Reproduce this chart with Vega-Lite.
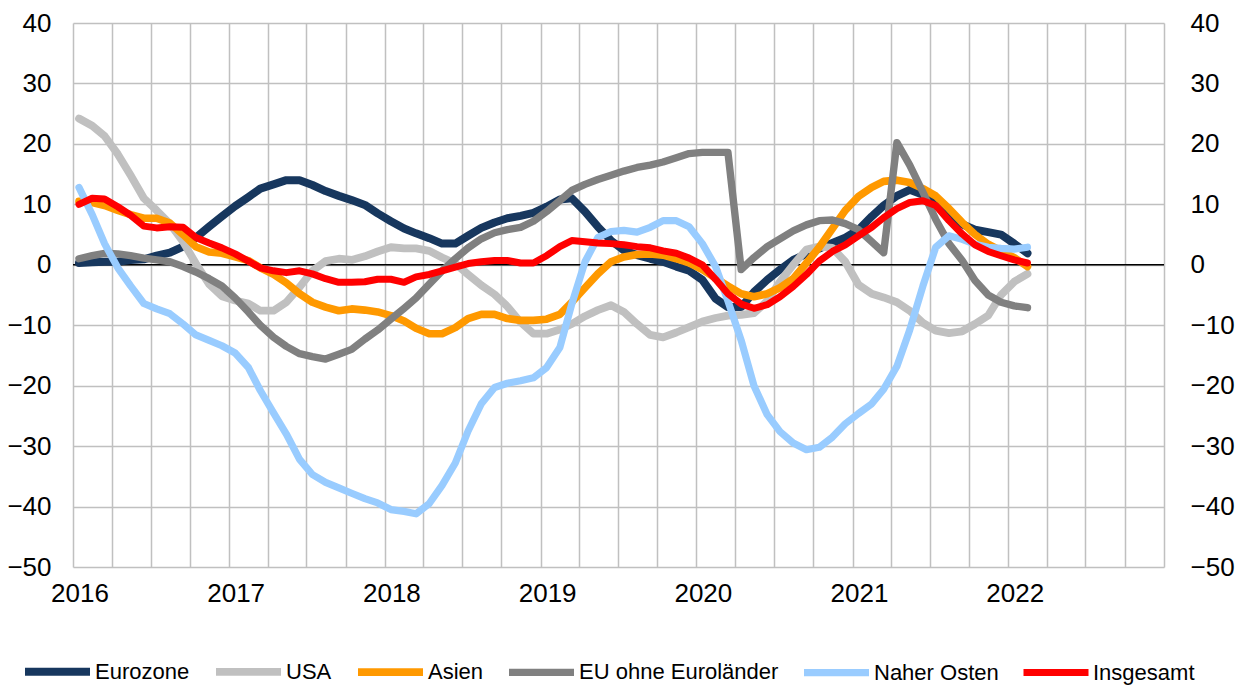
{
  "$schema": "https://vega.github.io/schema/vega-lite/v6.json",
  "width": 1091,
  "height": 544,
  "autosize": {"type": "none"},
  "padding": {"left": 73, "top": 23, "right": 77, "bottom": 119},
  "background": "white",
  "config": {"view": {"stroke": null}, "font": "Liberation Sans"},
  "data": {"values": [
    {"Datum": "2016-01-15", "Eurozone": 0.3, "USA": 24.2, "Asien": 10.5, "EU ohne Euroländer": 1.0, "Naher Osten": 12.8, "Insgesamt": 10.0},
    {"Datum": "2016-02-15", "Eurozone": 0.4, "USA": 23.0, "Asien": 10.3, "EU ohne Euroländer": 1.5, "Naher Osten": 8.3, "Insgesamt": 11.0},
    {"Datum": "2016-03-15", "Eurozone": 0.5, "USA": 21.3, "Asien": 9.8, "EU ohne Euroländer": 1.9, "Naher Osten": 3.5, "Insgesamt": 10.9},
    {"Datum": "2016-04-15", "Eurozone": 0.5, "USA": 18.3, "Asien": 9.0, "EU ohne Euroländer": 1.8, "Naher Osten": -0.5, "Insgesamt": 9.6},
    {"Datum": "2016-05-15", "Eurozone": 0.8, "USA": 14.8, "Asien": 8.3, "EU ohne Euroländer": 1.5, "Naher Osten": -3.5, "Insgesamt": 8.2},
    {"Datum": "2016-06-15", "Eurozone": 0.9, "USA": 11.0, "Asien": 7.7, "EU ohne Euroländer": 1.1, "Naher Osten": -6.4, "Insgesamt": 6.4},
    {"Datum": "2016-07-15", "Eurozone": 1.5, "USA": 9.0, "Asien": 7.7, "EU ohne Euroländer": 0.8, "Naher Osten": -7.3, "Insgesamt": 6.1},
    {"Datum": "2016-08-15", "Eurozone": 2.0, "USA": 6.8, "Asien": 6.9, "EU ohne Euroländer": 0.5, "Naher Osten": -8.1, "Insgesamt": 6.3},
    {"Datum": "2016-09-15", "Eurozone": 3.0, "USA": 3.8, "Asien": 5.0, "EU ohne Euroländer": -0.3, "Naher Osten": -9.8, "Insgesamt": 6.2},
    {"Datum": "2016-10-15", "Eurozone": 4.5, "USA": 0.2, "Asien": 3.0, "EU ohne Euroländer": -1.2, "Naher Osten": -11.6, "Insgesamt": 4.5},
    {"Datum": "2016-11-15", "Eurozone": 6.3, "USA": -3.2, "Asien": 2.1, "EU ohne Euroländer": -2.3, "Naher Osten": -12.5, "Insgesamt": 3.6},
    {"Datum": "2016-12-15", "Eurozone": 8.0, "USA": -5.2, "Asien": 1.9, "EU ohne Euroländer": -3.5, "Naher Osten": -13.4, "Insgesamt": 2.8},
    {"Datum": "2017-01-15", "Eurozone": 9.7, "USA": -5.9, "Asien": 1.3, "EU ohne Euroländer": -5.5, "Naher Osten": -14.6, "Insgesamt": 1.8},
    {"Datum": "2017-02-15", "Eurozone": 11.2, "USA": -6.4, "Asien": 0.7, "EU ohne Euroländer": -7.8, "Naher Osten": -17.0, "Insgesamt": 0.6},
    {"Datum": "2017-03-15", "Eurozone": 12.6, "USA": -7.6, "Asien": -0.5, "EU ohne Euroländer": -10.0, "Naher Osten": -20.8, "Insgesamt": -0.5},
    {"Datum": "2017-04-15", "Eurozone": 13.3, "USA": -7.6, "Asien": -1.6, "EU ohne Euroländer": -12.0, "Naher Osten": -24.5, "Insgesamt": -1.0},
    {"Datum": "2017-05-15", "Eurozone": 14.0, "USA": -6.2, "Asien": -3.0, "EU ohne Euroländer": -13.5, "Naher Osten": -28.0, "Insgesamt": -1.3},
    {"Datum": "2017-06-15", "Eurozone": 14.0, "USA": -3.7, "Asien": -4.8, "EU ohne Euroländer": -14.7, "Naher Osten": -32.2, "Insgesamt": -1.0},
    {"Datum": "2017-07-15", "Eurozone": 13.2, "USA": -1.0, "Asien": -6.2, "EU ohne Euroländer": -15.2, "Naher Osten": -34.7, "Insgesamt": -1.5},
    {"Datum": "2017-08-15", "Eurozone": 12.2, "USA": 0.6, "Asien": -7.0, "EU ohne Euroländer": -15.6, "Naher Osten": -36.0, "Insgesamt": -2.3},
    {"Datum": "2017-09-15", "Eurozone": 11.4, "USA": 1.0, "Asien": -7.6, "EU ohne Euroländer": -14.8, "Naher Osten": -36.9, "Insgesamt": -2.9},
    {"Datum": "2017-10-15", "Eurozone": 10.7, "USA": 0.8, "Asien": -7.3, "EU ohne Euroländer": -14.0, "Naher Osten": -37.8, "Insgesamt": -2.9},
    {"Datum": "2017-11-15", "Eurozone": 9.9, "USA": 1.4, "Asien": -7.5, "EU ohne Euroländer": -12.3, "Naher Osten": -38.7, "Insgesamt": -2.8},
    {"Datum": "2017-12-15", "Eurozone": 8.5, "USA": 2.2, "Asien": -7.8, "EU ohne Euroländer": -10.8, "Naher Osten": -39.4, "Insgesamt": -2.4},
    {"Datum": "2018-01-15", "Eurozone": 7.2, "USA": 2.9, "Asien": -8.4, "EU ohne Euroländer": -9.0, "Naher Osten": -40.5, "Insgesamt": -2.4},
    {"Datum": "2018-02-15", "Eurozone": 6.0, "USA": 2.7, "Asien": -9.3, "EU ohne Euroländer": -7.2, "Naher Osten": -40.8, "Insgesamt": -2.9},
    {"Datum": "2018-03-15", "Eurozone": 5.2, "USA": 2.7, "Asien": -10.5, "EU ohne Euroländer": -5.5, "Naher Osten": -41.2, "Insgesamt": -2.0},
    {"Datum": "2018-04-15", "Eurozone": 4.4, "USA": 2.3, "Asien": -11.4, "EU ohne Euroländer": -3.2, "Naher Osten": -39.5, "Insgesamt": -1.6},
    {"Datum": "2018-05-15", "Eurozone": 3.5, "USA": 1.2, "Asien": -11.4, "EU ohne Euroländer": -1.0, "Naher Osten": -36.5, "Insgesamt": -1.0},
    {"Datum": "2018-06-15", "Eurozone": 3.5, "USA": 0.2, "Asien": -10.4, "EU ohne Euroländer": 1.0, "Naher Osten": -32.8, "Insgesamt": -0.4},
    {"Datum": "2018-07-15", "Eurozone": 4.8, "USA": -1.6, "Asien": -8.9, "EU ohne Euroländer": 2.8, "Naher Osten": -27.5, "Insgesamt": 0.2},
    {"Datum": "2018-08-15", "Eurozone": 6.1, "USA": -3.4, "Asien": -8.2, "EU ohne Euroländer": 4.3, "Naher Osten": -23.0, "Insgesamt": 0.5},
    {"Datum": "2018-09-15", "Eurozone": 7.0, "USA": -4.9, "Asien": -8.2, "EU ohne Euroländer": 5.3, "Naher Osten": -20.3, "Insgesamt": 0.7},
    {"Datum": "2018-10-15", "Eurozone": 7.7, "USA": -6.9, "Asien": -8.9, "EU ohne Euroländer": 5.8, "Naher Osten": -19.6, "Insgesamt": 0.7},
    {"Datum": "2018-11-15", "Eurozone": 8.1, "USA": -9.5, "Asien": -9.2, "EU ohne Euroländer": 6.2, "Naher Osten": -19.2, "Insgesamt": 0.3},
    {"Datum": "2018-12-15", "Eurozone": 8.6, "USA": -11.4, "Asien": -9.2, "EU ohne Euroländer": 7.2, "Naher Osten": -18.7, "Insgesamt": 0.3},
    {"Datum": "2019-01-15", "Eurozone": 9.6, "USA": -11.4, "Asien": -9.0, "EU ohne Euroländer": 8.8, "Naher Osten": -17.0, "Insgesamt": 1.5},
    {"Datum": "2019-02-15", "Eurozone": 10.8, "USA": -10.7, "Asien": -8.2, "EU ohne Euroländer": 10.6, "Naher Osten": -13.7, "Insgesamt": 3.0},
    {"Datum": "2019-03-15", "Eurozone": 11.0, "USA": -9.8, "Asien": -6.2, "EU ohne Euroländer": 12.3, "Naher Osten": -6.5, "Insgesamt": 4.0},
    {"Datum": "2019-04-15", "Eurozone": 8.8, "USA": -8.5, "Asien": -3.8, "EU ohne Euroländer": 13.3, "Naher Osten": 0.5, "Insgesamt": 3.8},
    {"Datum": "2019-05-15", "Eurozone": 6.3, "USA": -7.5, "Asien": -1.5, "EU ohne Euroländer": 14.1, "Naher Osten": 4.5, "Insgesamt": 3.6},
    {"Datum": "2019-06-15", "Eurozone": 4.0, "USA": -6.7, "Asien": 0.5, "EU ohne Euroländer": 14.8, "Naher Osten": 5.5, "Insgesamt": 3.5},
    {"Datum": "2019-07-15", "Eurozone": 2.4, "USA": -7.8, "Asien": 1.3, "EU ohne Euroländer": 15.5, "Naher Osten": 5.7, "Insgesamt": 3.3},
    {"Datum": "2019-08-15", "Eurozone": 1.6, "USA": -9.8, "Asien": 1.7, "EU ohne Euroländer": 16.1, "Naher Osten": 5.4, "Insgesamt": 3.0},
    {"Datum": "2019-09-15", "Eurozone": 1.0, "USA": -11.6, "Asien": 1.8, "EU ohne Euroländer": 16.5, "Naher Osten": 6.2, "Insgesamt": 2.8},
    {"Datum": "2019-10-15", "Eurozone": 0.5, "USA": -12.0, "Asien": 1.6, "EU ohne Euroländer": 17.0, "Naher Osten": 7.3, "Insgesamt": 2.3},
    {"Datum": "2019-11-15", "Eurozone": -0.3, "USA": -11.2, "Asien": 1.0, "EU ohne Euroländer": 17.7, "Naher Osten": 7.3, "Insgesamt": 1.9},
    {"Datum": "2019-12-15", "Eurozone": -1.0, "USA": -10.3, "Asien": 0.3, "EU ohne Euroländer": 18.4, "Naher Osten": 6.3, "Insgesamt": 1.1},
    {"Datum": "2020-01-15", "Eurozone": -2.5, "USA": -9.4, "Asien": -0.8, "EU ohne Euroländer": 18.6, "Naher Osten": 3.5, "Insgesamt": 0.0},
    {"Datum": "2020-02-15", "Eurozone": -5.6, "USA": -8.8, "Asien": -2.2, "EU ohne Euroländer": 18.6, "Naher Osten": -0.3, "Insgesamt": -2.4},
    {"Datum": "2020-03-15", "Eurozone": -7.0, "USA": -8.4, "Asien": -3.5, "EU ohne Euroländer": 18.6, "Naher Osten": -6.0, "Insgesamt": -4.8},
    {"Datum": "2020-04-15", "Eurozone": -7.0, "USA": -8.3, "Asien": -4.8, "EU ohne Euroländer": -0.8, "Naher Osten": -12.5, "Insgesamt": -6.5},
    {"Datum": "2020-05-15", "Eurozone": -4.5, "USA": -8.0, "Asien": -5.3, "EU ohne Euroländer": 1.2, "Naher Osten": -20.0, "Insgesamt": -7.2},
    {"Datum": "2020-06-15", "Eurozone": -2.5, "USA": -6.0, "Asien": -4.8, "EU ohne Euroländer": 3.0, "Naher Osten": -24.8, "Insgesamt": -6.6},
    {"Datum": "2020-07-15", "Eurozone": -0.8, "USA": -2.8, "Asien": -3.8, "EU ohne Euroländer": 4.3, "Naher Osten": -27.6, "Insgesamt": -5.3},
    {"Datum": "2020-08-15", "Eurozone": 0.8, "USA": 0.0, "Asien": -2.3, "EU ohne Euroländer": 5.6, "Naher Osten": -29.5, "Insgesamt": -3.6},
    {"Datum": "2020-09-15", "Eurozone": 1.8, "USA": 2.5, "Asien": 0.3, "EU ohne Euroländer": 6.6, "Naher Osten": -30.6, "Insgesamt": -1.6},
    {"Datum": "2020-10-15", "Eurozone": 2.7, "USA": 3.0, "Asien": 2.9, "EU ohne Euroländer": 7.3, "Naher Osten": -30.2, "Insgesamt": 0.6},
    {"Datum": "2020-11-15", "Eurozone": 3.6, "USA": 2.8, "Asien": 6.0, "EU ohne Euroländer": 7.4, "Naher Osten": -28.5, "Insgesamt": 2.2},
    {"Datum": "2020-12-15", "Eurozone": 4.5, "USA": 0.5, "Asien": 9.0, "EU ohne Euroländer": 6.8, "Naher Osten": -26.3, "Insgesamt": 3.3},
    {"Datum": "2021-01-15", "Eurozone": 5.8, "USA": -3.3, "Asien": 11.3, "EU ohne Euroländer": 5.8, "Naher Osten": -24.6, "Insgesamt": 4.8},
    {"Datum": "2021-02-15", "Eurozone": 8.0, "USA": -4.8, "Asien": 12.8, "EU ohne Euroländer": 3.8, "Naher Osten": -23.0, "Insgesamt": 6.2},
    {"Datum": "2021-03-15", "Eurozone": 9.8, "USA": -5.4, "Asien": 13.8, "EU ohne Euroländer": 2.0, "Naher Osten": -20.6, "Insgesamt": 7.8},
    {"Datum": "2021-04-15", "Eurozone": 11.4, "USA": -6.2, "Asien": 14.0, "EU ohne Euroländer": 20.2, "Naher Osten": -16.8, "Insgesamt": 9.3},
    {"Datum": "2021-05-15", "Eurozone": 12.4, "USA": -7.6, "Asien": 13.6, "EU ohne Euroländer": 16.5, "Naher Osten": -10.8, "Insgesamt": 10.3},
    {"Datum": "2021-06-15", "Eurozone": 11.6, "USA": -9.6, "Asien": 12.6, "EU ohne Euroländer": 12.0, "Naher Osten": -3.5, "Insgesamt": 10.6},
    {"Datum": "2021-07-15", "Eurozone": 10.1, "USA": -10.9, "Asien": 11.4, "EU ohne Euroländer": 7.5, "Naher Osten": 2.9, "Insgesamt": 9.8},
    {"Datum": "2021-08-15", "Eurozone": 8.2, "USA": -11.3, "Asien": 9.3, "EU ohne Euroländer": 3.5, "Naher Osten": 4.8, "Insgesamt": 7.3},
    {"Datum": "2021-09-15", "Eurozone": 6.7, "USA": -11.0, "Asien": 7.0, "EU ohne Euroländer": 0.7, "Naher Osten": 4.2, "Insgesamt": 5.1},
    {"Datum": "2021-10-15", "Eurozone": 5.8, "USA": -9.8, "Asien": 5.0, "EU ohne Euroländer": -2.6, "Naher Osten": 3.4, "Insgesamt": 3.3},
    {"Datum": "2021-11-15", "Eurozone": 5.4, "USA": -8.4, "Asien": 3.4, "EU ohne Euroländer": -5.0, "Naher Osten": 2.9, "Insgesamt": 2.2},
    {"Datum": "2021-12-15", "Eurozone": 5.0, "USA": -5.0, "Asien": 2.3, "EU ohne Euroländer": -6.2, "Naher Osten": 2.7, "Insgesamt": 1.5},
    {"Datum": "2022-01-15", "Eurozone": 3.5, "USA": -2.8, "Asien": 1.2, "EU ohne Euroländer": -6.8, "Naher Osten": 2.6, "Insgesamt": 0.8},
    {"Datum": "2022-02-15", "Eurozone": 1.9, "USA": -1.5, "Asien": -0.3, "EU ohne Euroländer": -7.1, "Naher Osten": 2.9, "Insgesamt": 0.3}
  ]},
  "resolve": {"axis": {"y": "independent"}},
  "layer": [
    {
      "data": {"values": [{}]},
      "mark": {"type": "rule", "color": "black", "strokeWidth": 1.5},
      "encoding": {
        "y": {"datum": 0, "type": "quantitative", "scale": {"domain": [-50, 40]},
          "axis": {"orient": "right", "title": null, "values": [-50, -40, -30, -20, -10, 0, 10, 20, 30, 40], "grid": false, "ticks": false, "domain": false, "labelFontSize": 26, "labelPadding": 26, "labelColor": "black", "labelFont": "Liberation Sans"}}
      }
    },
    {
      "transform": [{"fold": ["Eurozone", "USA", "Asien", "EU ohne Euroländer", "Naher Osten", "Insgesamt"], "as": ["Region", "Wert"]}],
      "mark": {"type": "line", "strokeCap": "round", "strokeJoin": "round"},
      "encoding": {
        "x": {"field": "Datum", "type": "temporal",
          "scale": {"domain": [{"year": 2016, "month": 1, "date": 1}, {"year": 2023, "month": 1, "date": 1}]},
          "axis": {"title": null, "tickCount": {"interval": "month", "step": 3}, "labelExpr": "month(datum.value) == 0 && year(datum.value) < 2023 ? timeFormat(datum.value, '%Y') : ''", "grid": true, "gridColor": "#C0C0C0", "gridWidth": 1.5, "ticks": false, "domain": false, "labelFontSize": 26, "labelColor": "black", "labelPadding": 13, "labelOffset": 6.5, "labelFlush": false, "labelOverlap": false, "labelBound": false, "labelFont": "Liberation Sans"}},
        "y": {"field": "Wert", "type": "quantitative", "scale": {"domain": [-50, 40]},
          "axis": {"orient": "left", "title": null, "values": [-50, -40, -30, -20, -10, 0, 10, 20, 30, 40], "grid": true, "gridColor": "#C0C0C0", "gridWidth": 1.5, "ticks": false, "domain": false, "labelFontSize": 26, "labelPadding": 22, "labelColor": "black", "labelFont": "Liberation Sans"}},
        "color": {"field": "Region", "type": "nominal",
          "scale": {"domain": ["Eurozone", "USA", "Asien", "EU ohne Euroländer", "Naher Osten", "Insgesamt"], "range": ["#17375E", "#C0C0C0", "#FF9900", "#808080", "#99CCFF", "#FF0000"]},
          "legend": {"orient": "none", "legendX": -52, "legendY": 612, "direction": "horizontal", "title": null, "symbolType": "stroke", "symbolSize": 4225, "symbolStrokeWidth": 7, "labelFontSize": 22, "labelOffset": 1, "labelLimit": 400, "columnPadding": 10, "labelColor": "black", "labelFont": "Liberation Sans"}},
        "strokeWidth": {"field": "Region", "type": "nominal",
          "scale": {"domain": ["Eurozone", "USA", "Asien", "EU ohne Euroländer", "Naher Osten", "Insgesamt"], "range": [8, 7, 8, 7, 8, 10]},
          "legend": null}
      }
    }
  ]
}
